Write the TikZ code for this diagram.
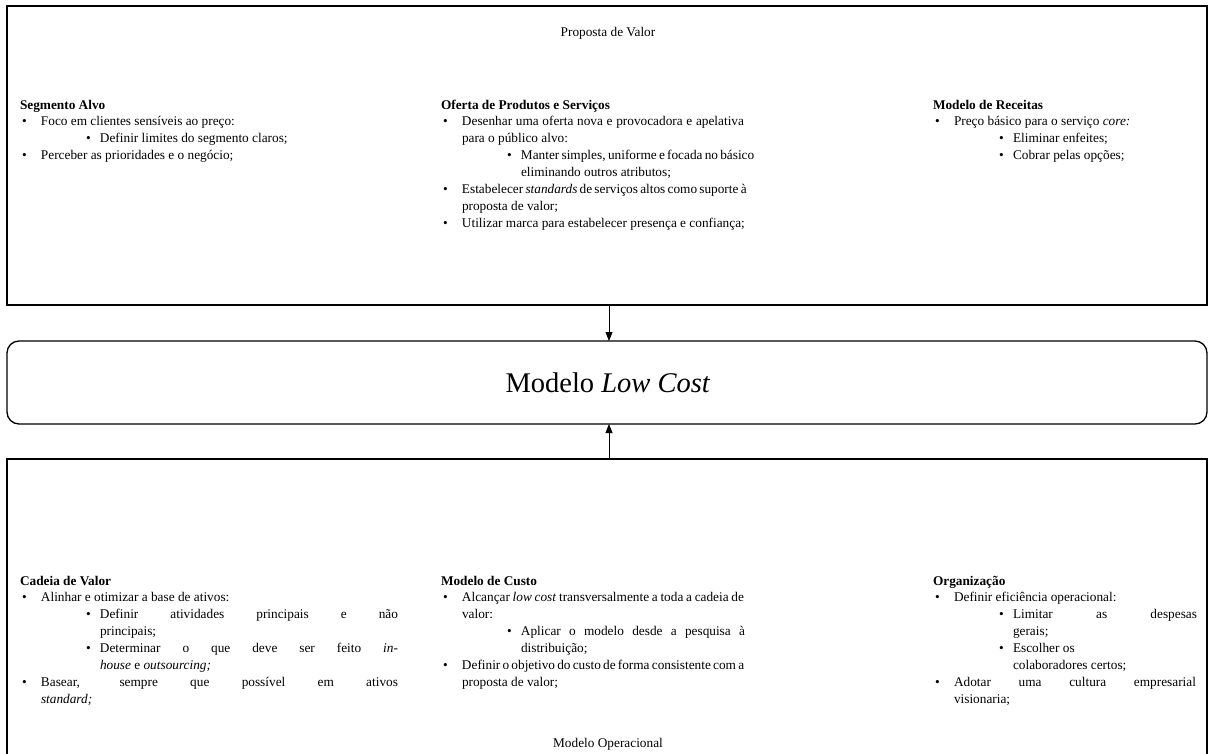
\documentclass[tikz,border=0pt]{standalone}
\usepackage{fontspec}
\setmainfont{Liberation Serif}
\usetikzlibrary{arrows.meta}
\setlength{\parindent}{0pt}
\newcommand{\HD}[1]{\textbf{#1}}
\newcommand{\BL}[1]{\par\makebox[21pt][l]{\hspace{2pt}•}#1}
\newcommand{\CL}[1]{\par\hspace*{21pt}#1}
\newcommand{\SB}[1]{\par\hspace*{66pt}\makebox[14pt][l]{•}#1}
\newcommand{\SC}[1]{\par\hspace*{80pt}#1}
\newcommand{\JS}[2]{\makebox[#1][s]{#2}}
\newenvironment{colbox}{\begin{minipage}[t]{400pt}\fontsize{13.3}{16.9}\selectfont}{\end{minipage}}
\tikzset{
  panel/.style={draw, line width=1.3pt, inner sep=0pt, outer sep=0pt, anchor=north west, minimum width=1200pt},
  col/.style={anchor=base west, inner sep=0pt, outer sep=0pt},
  title/.style={font=\fontsize{13.3}{16}\selectfont, inner sep=0pt, anchor=base},
  link/.style={-{Triangle[length=9pt,width=7pt]}, line width=0.8pt},
}
\begin{document}
\begin{tikzpicture}[x=1pt,y=-1pt]
\useasboundingbox (0,0) rectangle (1208,753);
\clip (0,0) rectangle (1208,753);
% boxes
\node[panel, minimum height=299pt] (top) at (7,6) {};
\node[panel, minimum height=83pt, rounded corners=12pt] (mid) at (7,341) {};
\node[panel, minimum height=330pt] (bot) at (7,459) {};
\coordinate (ax) at (609,0);
\draw[link] (top.south -| ax) -- (mid.north -| ax);
\draw[link] (bot.north -| ax) -- (mid.south -| ax);
% titles
\node[title] (tpv) at (608,36) {Proposta de Valor};
\node[font=\fontsize{28.5}{32}\selectfont, inner sep=0pt] (tlc) at (608,383) {Modelo \textit{Low Cost}};
\node[title] (tmo) at (608,747) {Modelo Operacional};
% top columns
\node[col] (sa) at (20,109) {\begin{colbox}
\HD{Segmento Alvo}
\BL{Foco em clientes sensíveis ao preço:}
\SB{Definir limites do segmento claros;}
\BL{Perceber as prioridades e o negócio;}
\end{colbox}};
\node[col] (op) at (441,109) {\begin{colbox}
\HD{Oferta de Produtos e Serviços}
\BL{\JS{282pt}{Desenhar uma oferta nova e provocadora e apelativa}}
\CL{para o público alvo:}
\SB{\JS{224pt}{Manter simples, uniforme e focada no básico}}
\SC{eliminando outros atributos;}
\BL{\JS{282pt}{Estabelecer \textit{standards} de serviços altos como suporte à}}
\CL{proposta de valor;}
\BL{Utilizar marca para estabelecer presença e confiança;}
\end{colbox}};
\node[col] (mr) at (933,109) {\begin{colbox}
\HD{Modelo de Receitas}
\BL{Preço básico para o serviço \textit{core:}}
\SB{Eliminar enfeites;}
\SB{Cobrar pelas opções;}
\end{colbox}};
% bottom columns
\node[col] (cv) at (20,585) {\begin{colbox}
\HD{Cadeia de Valor}
\BL{Alinhar e otimizar a base de ativos:}
\SB{\JS{298pt}{Definir atividades principais e não}}
\SC{principais;}
\SB{\JS{298pt}{Determinar o que deve ser feito \textit{in-}}}
\SC{\textit{house} e \textit{outsourcing;}}
\BL{\JS{357pt}{Basear, sempre que possível em ativos}}
\CL{\textit{standard;}}
\end{colbox}};
\node[col] (mc) at (441,585) {\begin{colbox}
\HD{Modelo de Custo}
\BL{\JS{282pt}{Alcançar \textit{low cost} transversalmente a toda a cadeia de}}
\CL{valor:}
\SB{\JS{224pt}{Aplicar o modelo desde a pesquisa à}}
\SC{distribuição;}
\BL{\JS{282pt}{Definir o objetivo do custo de forma consistente com a}}
\CL{proposta de valor;}
\end{colbox}};
\node[col] (org) at (933,585) {\begin{colbox}
\HD{Organização}
\BL{Definir eficiência operacional:}
\SB{\JS{184pt}{Limitar as despesas}}
\SC{gerais;}
\SB{Escolher os}
\SC{colaboradores certos;}
\BL{\JS{242pt}{Adotar uma cultura empresarial}}
\CL{visionaria;}
\end{colbox}};
\end{tikzpicture}
\end{document}
